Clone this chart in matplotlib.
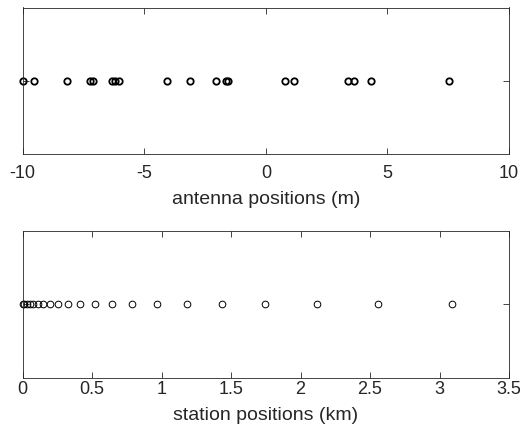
import matplotlib
matplotlib.use("Agg")
import matplotlib.pyplot as plt

plt.rcParams['font.family'] = ['Liberation Sans', 'DejaVu Sans']

antenna_positions = [-10.0, -9.52, -8.18, -7.22, -7.09, -6.33, -6.19, -6.06, -4.06,
                     -3.11, -2.06, -1.63, -1.55, 0.77, 1.14, 3.36, 3.63, 4.33, 7.55]
station_positions = [0.0, 0.01, 0.03, 0.05, 0.077, 0.108, 0.144, 0.197, 0.257, 0.329,
                     0.413, 0.518, 0.643, 0.789, 0.967, 1.183, 1.437, 1.746, 2.116,
                     2.557, 3.089]
top_xticks = [-10, -5, 0, 5, 10]
top_xticklabels = ['-10', '-5', '0', '5', '10']
bot_xticks = [0, 0.5, 1, 1.5, 2, 2.5, 3, 3.5]
bot_xticklabels = ['0', '0.5', '1', '1.5', '2', '2.5', '3', '3.5']

W, H = 520, 434
fig = plt.figure(figsize=(W / 100, H / 100), dpi=100)

axcol = '#262626'

def style(ax, pad, labelpad):
    for s in ax.spines.values():
        s.set_color(axcol)
        s.set_linewidth(0.6)
    ax.tick_params(direction='in', top=True, right=True, length=4, width=0.6,
                   color=axcol, labelcolor=axcol, labelsize=13, pad=pad)
    ax.set_yticks([0])
    ax.set_yticklabels([])
    ax.set_ylim(-1, 1)
    ax.xaxis.labelpad = labelpad

ax1 = fig.add_axes([22.7 / W, 1 - 154.3 / H, (509 - 22.7) / W, (154.3 - 7.5) / H])
ax1.plot(antenna_positions, [0] * len(antenna_positions), 'o', mfc='none', mec='black',
         ms=4.6, mew=1.3, clip_on=False)
ax1.set_xlim(-10, 10)
ax1.set_xticks(top_xticks)
ax1.set_xticklabels(top_xticklabels)
ax1.set_xlabel('antenna positions (m)', fontsize=14, color=axcol)
style(ax1, 8, 6)

ax2 = fig.add_axes([22.7 / W, 1 - 377.7 / H, (509 - 22.7) / W, (377.7 - 231) / H])
ax2.plot(station_positions, [0] * len(station_positions), 'o', mfc='none', mec='black',
         ms=4.8, mew=0.7, clip_on=False)
ax2.set_xlim(0, 3.5)
ax2.set_xticks(bot_xticks)
ax2.set_xticklabels(bot_xticklabels)
ax2.set_xlabel('station positions (km)', fontsize=14, color=axcol)
style(ax2, 2.5, 6)

fig.savefig('out.png', dpi=100)
